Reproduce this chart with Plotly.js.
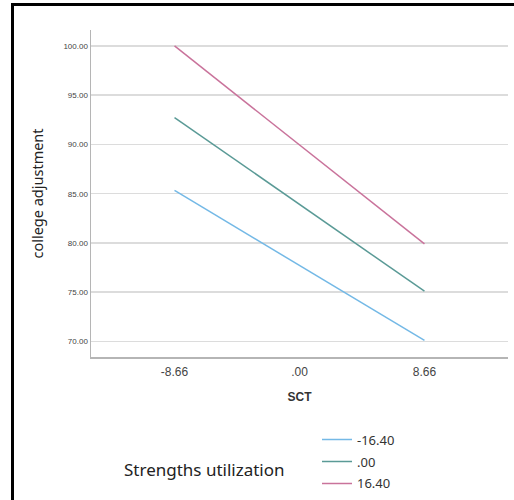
<!DOCTYPE html>
<html>
<head>
<meta charset="utf-8">
<script src="https://cdn.plot.ly/plotly-3.0.1.min.js"></script>
<style>
html,body{margin:0;padding:0;background:#fff;width:514px;height:500px;overflow:hidden;}
#wrap{position:relative;width:514px;height:500px;overflow:hidden;}
#chart{position:absolute;left:0;top:0;width:514px;height:500px;}
#frame{position:absolute;left:11px;top:3px;width:510px;height:510px;border-left:3px solid #000;border-top:3px solid #000;pointer-events:none;}
</style>
</head>
<body>
<div id="wrap">
<div id="chart"></div>
<div id="frame"></div>
</div>
<script>
const sctValues = [-8.66, 8.66];
const sctTickVals = [-8.66, 0, 8.66];
const sctTickText = ["-8.66", ".00", "8.66"];
const groupNames = ["-16.40", ".00", "16.40"];
const adjLow = [85.33, 70.1];
const adjMid = [92.73, 75.1];
const adjHigh = [100.0, 79.9];
const yTickVals = [70, 75, 80, 85, 90, 95, 100];
const yTickText = ["70.00", "75.00", "80.00", "85.00", "90.00", "95.00", "100.00"];
const seriesColors = ["#74b9e6", "#5a9a96", "#c9739b"];

const seriesValues = [adjLow, adjMid, adjHigh];
const traces = seriesValues.map((vals, i) => ({
  type: "scatter", mode: "lines", x: sctValues, y: vals, name: groupNames[i],
  legendgroup: "g" + i, line: {color: seriesColors[i], width: 1.5}, hoverinfo: "skip"
}));

const W = 514, H = 500;
const L = 91, R = 508, T = 30, B = 357.3;
const px = v => (v - L) / (R - L);
const py = v => (B - v) / (B - T);

const layout = {
  width: W, height: H,
  margin: {l: L, r: W - R, t: T, b: H - B, pad: 0, autoexpand: false},
  paper_bgcolor: "#ffffff", plot_bgcolor: "#ffffff", showlegend: true,
  legend: {x: px(317), y: py(425), xanchor: "left", yanchor: "top",
    font: {family: "Noto Sans, sans-serif", size: 13, color: "#333333"},
    tracegroupgap: 2, itemwidth: 30, bgcolor: "rgba(0,0,0,0)"},
  xaxis: {range: [-14.45, 14.45], tickvals: sctTickVals, ticktext: sctTickText,
    showgrid: false, zeroline: false, showline: true, linecolor: "#b5b5b5", linewidth: 1.5,
    ticks: "", ticklabelstandoff: 3,
    tickfont: {family: "Liberation Sans, Arial, sans-serif", size: 12, color: "#444444"},
    title: {text: "<b>SCT</b>", font: {family: "Liberation Sans, Arial, sans-serif", size: 12, color: "#333333"}, standoff: 14},
    automargin: false},
  yaxis: {range: [68.42, 101.62], tickvals: yTickVals, ticktext: yTickText,
    showgrid: true, gridcolor: "#dcdcdc", gridwidth: 1.5, zeroline: false, showline: true,
    linecolor: "#b5b5b5", linewidth: 1.5, ticks: "",
    tickfont: {family: "Liberation Sans, Arial, sans-serif", size: 8, color: "#444444"},
    title: {text: "college adjustment", font: {family: "Noto Sans, sans-serif", size: 14.5, color: "#222222"}, standoff: 16},
    automargin: false},
  annotations: [{xref: "paper", yref: "paper", x: px(122), y: py(470),
    xanchor: "left", yanchor: "middle",
    text: "Strengths utilization", showarrow: false,
    font: {family: "Noto Sans, sans-serif", size: 17, color: "#222222"}}]
};
Plotly.newPlot("chart", traces, layout, {staticPlot: true, displayModeBar: false});
</script>
</body>
</html>
